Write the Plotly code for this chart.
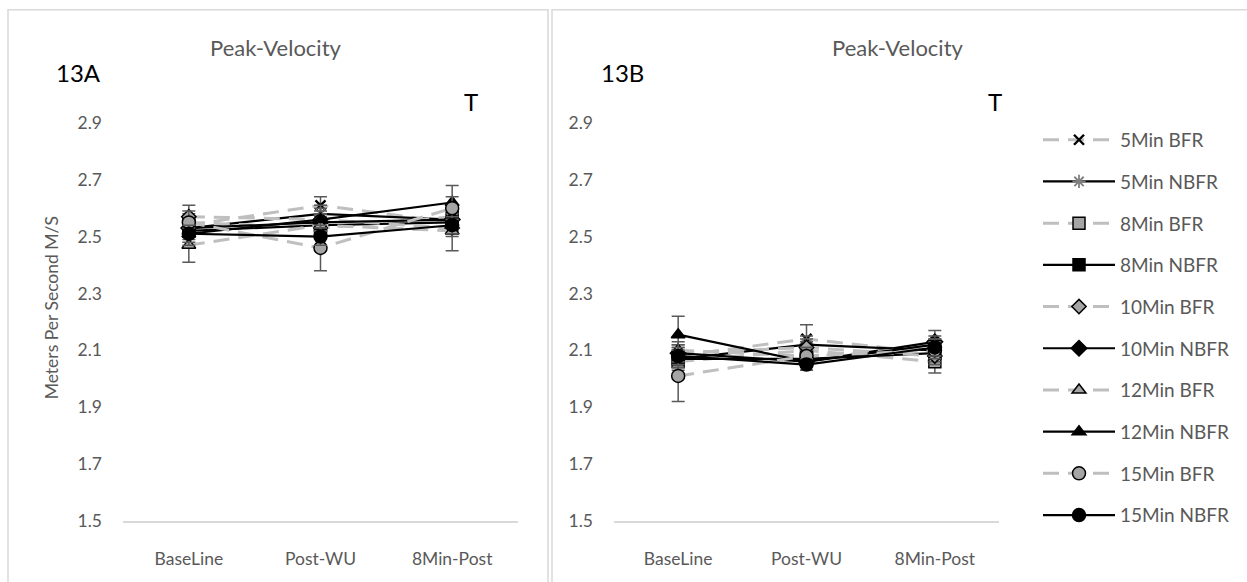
import plotly.graph_objects as go

categories = ["BaseLine", "Post-WU", "8Min-Post"]
series_names = ["5Min BFR", "5Min NBFR", "8Min BFR", "8Min NBFR", "10Min BFR",
                "10Min NBFR", "12Min BFR", "12Min NBFR", "15Min BFR", "15Min NBFR"]

# Panel 13A values
a_5bfr = [2.54, 2.61, 2.55]
a_5nbfr = [2.53, 2.58, 2.56]
a_8bfr = [2.55, 2.53, 2.57]
a_8nbfr = [2.52, 2.54, 2.55]
a_10bfr = [2.57, 2.56, 2.53]
a_10nbfr = [2.53, 2.55, 2.56]
a_12bfr = [2.47, 2.54, 2.52]
a_12nbfr = [2.51, 2.56, 2.62]
a_15bfr = [2.55, 2.46, 2.60]
a_15nbfr = [2.51, 2.50, 2.54]
a_err = [
    [0.03, 0.03, 0.03], [0.03, 0.03, 0.03], [0.03, 0.03, 0.03], [0.03, 0.03, 0.03],
    [0.04, 0.03, 0.03], [0.03, 0.03, 0.03], [0.06, 0.04, 0.07], [0.04, 0.04, 0.06],
    [0.04, 0.08, 0.04], [0.03, 0.03, 0.03],
]

# Panel 13B values
b_5bfr = [2.08, 2.14, 2.09]
b_5nbfr = [2.07, 2.12, 2.10]
b_8bfr = [2.06, 2.10, 2.06]
b_8nbfr = [2.07, 2.07, 2.09]
b_10bfr = [2.09, 2.11, 2.08]
b_10nbfr = [2.09, 2.06, 2.13]
b_12bfr = [2.10, 2.08, 2.11]
b_12nbfr = [2.155, 2.06, 2.12]
b_15bfr = [2.01, 2.08, 2.10]
b_15nbfr = [2.08, 2.05, 2.11]
b_err = [
    [0.03, 0.05, 0.03], [0.03, 0.03, 0.03], [0.03, 0.03, 0.04], [0.03, 0.03, 0.03],
    [0.03, 0.03, 0.03], [0.03, 0.02, 0.04], [0.03, 0.03, 0.03], [0.065, 0.03, 0.03],
    [0.09, 0.03, 0.03], [0.03, 0.02, 0.03],
]

y_ticks = [1.5, 1.7, 1.9, 2.1, 2.3, 2.5, 2.7, 2.9]

a_vals = [a_5bfr, a_5nbfr, a_8bfr, a_8nbfr, a_10bfr, a_10nbfr, a_12bfr, a_12nbfr, a_15bfr, a_15nbfr]
b_vals = [b_5bfr, b_5nbfr, b_8bfr, b_8nbfr, b_10bfr, b_10nbfr, b_12bfr, b_12nbfr, b_15bfr, b_15nbfr]

GRAY_FILL = "#a5a5a5"
DASH_GRAY = "#bfbfbf"
styles = [
    dict(symbol="x-thin", color="black", lc="black", lw=2.4, size=10),
    dict(symbol="asterisk", color="#7f7f7f", lc="#7f7f7f", lw=1.8, size=11),
    dict(symbol="square", color=GRAY_FILL, lc="black", lw=1.5, size=12),
    dict(symbol="square", color="black", lc="black", lw=1.5, size=12),
    dict(symbol="diamond", color=GRAY_FILL, lc="black", lw=1.5, size=11),
    dict(symbol="diamond", color="black", lc="black", lw=1.5, size=12),
    dict(symbol="triangle-up", color=GRAY_FILL, lc="black", lw=1.5, size=12),
    dict(symbol="triangle-up", color="black", lc="black", lw=1.5, size=12),
    dict(symbol="circle", color=GRAY_FILL, lc="black", lw=1.5, size=13),
    dict(symbol="circle", color="black", lc="black", lw=1.5, size=13),
]

fig = go.Figure()

def add_panel(vals, errs, xa, ya, show):
    for i, name in enumerate(series_names):
        st = styles[i]
        bfr = name.endswith(" BFR")
        line = dict(color=DASH_GRAY, width=3, dash="16px,9px") if bfr else dict(color="black", width=2.2)
        fig.add_trace(go.Scatter(
            x=categories, y=vals[i], name=name, mode="lines+markers",
            legendgroup=name, showlegend=show,
            line=line,
            marker=dict(symbol=st["symbol"], color=st["color"], size=st["size"],
                        line=dict(color=st["lc"], width=st["lw"])),
            error_y=dict(type="data", array=errs[i], visible=True,
                         color="#595959", thickness=1.5, width=6.5),
            xaxis=xa, yaxis=ya,
        ))

add_panel(a_vals, a_err, "x", "y", False)
add_panel(b_vals, b_err, "x2", "y2", True)

W, H = 1247, 582
def fx(px):
    return px / W
def fy(py):
    return 1 - py / H

FONT = "Lato"
y_bot, y_top = 530, 96.1
axis_common = dict(range=[1.5, 3.0], tickvals=y_ticks, tickformat=".1f",
                   showgrid=False, zeroline=False, showline=False, ticks="",
                   tickfont=dict(family=FONT, size=17.5, color="#595959"),
                   domain=[fy(y_bot), fy(y_top)])
xcommon = dict(type="category", range=[-0.5, 2.5], showgrid=False, zeroline=False,
               showline=True, linecolor="#d9d9d9", linewidth=1.5, ticks="",
               ticklabelstandoff=21,
               tickfont=dict(family=FONT, size=17.5, color="#595959"))

fig.update_layout(
    width=W, height=H, margin=dict(l=0, r=0, t=0, b=0),
    paper_bgcolor="white", plot_bgcolor="white",
    font=dict(family=FONT, color="#595959"),
    xaxis=dict(**xcommon, domain=[fx(123), fx(518)], anchor="y"),
    xaxis2=dict(**xcommon, domain=[fx(614), fx(999)], anchor="y2"),
    yaxis=dict(**axis_common, anchor="x", ticklabelstandoff=20,
               title=dict(text="Meters Per Second M/S", standoff=14,
                          font=dict(family=FONT, size=17.5, color="#595959"))),
    yaxis2=dict(**axis_common, anchor="x2", ticklabelstandoff=20),
    legend=dict(x=fx(1038), y=fy(123), xanchor="left", yanchor="top",
                font=dict(family=FONT, size=19, color="#595959"),
                tracegroupgap=14, itemwidth=72, traceorder="grouped",
                bgcolor="rgba(0,0,0,0)"),
    showlegend=True,
)

# panel borders
fig.add_shape(type="rect", xref="paper", yref="paper", x0=fx(8), x1=fx(548), y0=-0.05, y1=fy(10),
              line=dict(color="#d9d9d9", width=1.5), fillcolor="rgba(0,0,0,0)", layer="below")
fig.add_shape(type="rect", xref="paper", yref="paper", x0=fx(552), x1=1.05, y0=-0.05, y1=fy(10),
              line=dict(color="#d9d9d9", width=1.5), fillcolor="rgba(0,0,0,0)", layer="below")

ann = [
    dict(text="Peak-Velocity", x=fx(276), y=fy(48), size=22, color="#595959"),
    dict(text="Peak-Velocity", x=fx(898), y=fy(48), size=22, color="#595959"),
    dict(text="13A", x=fx(78), y=fy(74), size=24, color="black"),
    dict(text="13B", x=fx(622), y=fy(74), size=24, color="black"),
    dict(text="T", x=fx(471), y=fy(103), size=24, color="black"),
    dict(text="T", x=fx(995), y=fy(103), size=24, color="black"),
]
for a in ann:
    fig.add_annotation(text=a["text"], x=a["x"], y=a["y"], xref="paper", yref="paper",
                       showarrow=False, xanchor="center", yanchor="middle",
                       font=dict(family=FONT, size=a["size"], color=a["color"]))

fig.write_html("out.html")
